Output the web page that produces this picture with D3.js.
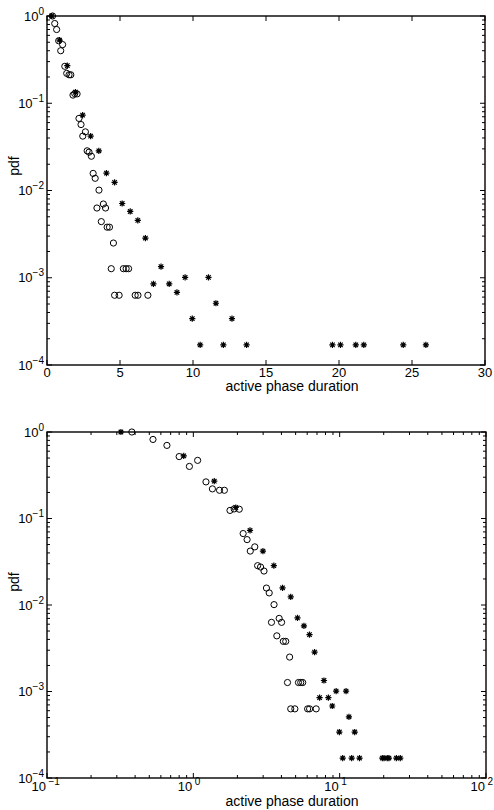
<!DOCTYPE html>
<html>
<head>
<meta charset="utf-8">
<script src="https://cdn.jsdelivr.net/npm/d3@7"></script>
<style>
  html, body { margin: 0; padding: 0; background: #fff; }
  svg { display: block; }
  text { font-family: "Liberation Sans", Arial, Helvetica, sans-serif; fill: #000; }
</style>
</head>
<body>
<svg id="chart" width="494" height="810"></svg>
<script>
// Active phase durations (x) and their empirical pdf, two datasets
const circleDur = [0.38, 0.53, 0.66, 0.80, 0.94, 1.07, 1.22, 1.35, 1.51, 1.63,
  1.78, 1.90, 2.06, 2.19, 2.33, 2.45, 2.63, 2.75, 2.88, 3.04,
  3.16, 3.30, 3.56, 3.42, 3.86, 4.01, 3.72, 4.12, 4.28, 4.55,
  4.40, 5.23, 5.42, 5.59, 4.63, 4.94, 6.04, 6.23, 6.91];
const circlePdf = [1.0, 0.82, 0.70, 0.52, 0.40, 0.47, 0.265, 0.22, 0.212, 0.212,
  0.124, 0.129, 0.128, 0.067, 0.057, 0.042, 0.047, 0.0285, 0.0275, 0.0247,
  0.0157, 0.0138, 0.0101, 0.0063, 0.0070, 0.0063, 0.0044, 0.0038, 0.0038, 0.0025,
  0.00127, 0.00127, 0.00127, 0.00127, 0.00063, 0.00063, 0.00063, 0.00063, 0.00063];

const starDur = [0.32, 0.86, 1.39, 1.95, 2.44, 2.99, 3.55, 4.07, 4.63, 5.15,
  5.70, 6.22, 6.74, 7.81, 7.29, 8.37, 8.90, 9.46, 11.06, 11.57,
  9.95, 12.67, 10.49, 12.08, 13.67, 19.55, 20.1, 21.15, 21.7, 24.4, 25.95];
const starPdf = [1.0, 0.53, 0.27, 0.134, 0.073, 0.042, 0.0285, 0.0158, 0.0124, 0.0071,
  0.00575, 0.00455, 0.00285, 0.00134, 0.00085, 0.00085, 0.00068, 0.00101, 0.00101, 0.00051,
  0.00034, 0.00034, 0.00017, 0.00017, 0.00017, 0.00017, 0.00017, 0.00017, 0.00017, 0.00017, 0.00017];

// Axis ticks
const linTicks = [0, 5, 10, 15, 20, 25, 30];
const pdfDecades = [1e-4, 1e-3, 1e-2, 1e-1, 1];
const pdfExponents = ["−4", "−3", "−2", "−1", "0"];
const durDecades = [0.1, 1, 10, 100];
const durExponents = ["−1", "0", "1", "2"];
const xTitle = "active phase duration";
const yTitle = "pdf";

const svg = d3.select("#chart");
const circles = circleDur.map((d, i) => ({ x: d, p: circlePdf[i] }));
const stars = starDur.map((d, i) => ({ x: d, p: starPdf[i] }));

function minorLogTicks(lo, hi) {
  const out = [];
  for (let dec = lo; dec < hi * 0.999; dec *= 10) {
    for (let k = 2; k <= 9; k++) out.push(dec * k);
  }
  return out;
}

const starPath = (() => {
  const s = 3.1, a = s * 0.72;
  return `M${-s},0H${s}M0,${-s}V${s}M${-a},${-a}L${a},${a}M${-a},${a}L${a},${-a}`;
})();

function drawPanel(cfg) {
  const { x, y, logX } = cfg;
  const [x0, x1] = x.range();
  const [y0, y1] = y.range(); // y0 bottom, y1 top
  const g = svg.append("g");
  const axisColor = "#000";
  const majorLen = 5, minorLen = 3;

  // Ticks on all four sides, pointing inward
  const ticks = g.append("g").attr("stroke", axisColor).attr("stroke-width", 1);
  const xMajor = logX ? durDecades : linTicks;
  xMajor.forEach(v => {
    const px = x(v);
    ticks.append("line").attr("x1", px).attr("x2", px).attr("y1", y0).attr("y2", y0 - majorLen);
    ticks.append("line").attr("x1", px).attr("x2", px).attr("y1", y1).attr("y2", y1 + majorLen);
  });
  if (logX) {
    minorLogTicks(0.1, 100).forEach(v => {
      const px = x(v);
      ticks.append("line").attr("x1", px).attr("x2", px).attr("y1", y0).attr("y2", y0 - minorLen);
      ticks.append("line").attr("x1", px).attr("x2", px).attr("y1", y1).attr("y2", y1 + minorLen);
    });
  }
  pdfDecades.forEach(v => {
    const py = y(v);
    ticks.append("line").attr("x1", x0).attr("x2", x0 + majorLen).attr("y1", py).attr("y2", py);
    ticks.append("line").attr("x1", x1).attr("x2", x1 - majorLen).attr("y1", py).attr("y2", py);
  });
  minorLogTicks(1e-4, 1).forEach(v => {
    const py = y(v);
    ticks.append("line").attr("x1", x0).attr("x2", x0 + minorLen).attr("y1", py).attr("y2", py);
    ticks.append("line").attr("x1", x1).attr("x2", x1 - minorLen).attr("y1", py).attr("y2", py);
  });

  // Box
  g.append("rect")
    .attr("x", x0).attr("y", y1)
    .attr("width", x1 - x0).attr("height", y0 - y1)
    .attr("fill", "none").attr("stroke", axisColor).attr("stroke-width", 1.4);

  // Y tick labels: 10^n, right aligned
  pdfDecades.forEach((v, i) => {
    const py = y(v);
    const t = g.append("text").attr("x", x0 - 3).attr("y", py + 4.7)
      .attr("text-anchor", "end").attr("font-size", 13);
    t.append("tspan").text("10");
    t.append("tspan").attr("dy", -6).attr("font-size", 10).text(pdfExponents[i]);
  });

  // X tick labels
  if (logX) {
    durDecades.forEach((v, i) => {
      const px = x(v);
      g.append("text").attr("x", px - 1).attr("y", y0 + 13)
        .attr("text-anchor", "end").attr("font-size", 13).text("10");
      g.append("text").attr("x", px + 1.5).attr("y", y0 + 7)
        .attr("text-anchor", "start").attr("font-size", 10).text(durExponents[i]);
    });
  } else {
    linTicks.forEach(v => {
      g.append("text").attr("x", x(v)).attr("y", y0 + 11.5)
        .attr("text-anchor", "middle").attr("font-size", 13).text(v);
    });
  }

  // Axis titles
  g.append("text").attr("x", 292).attr("y", y0 + cfg.titleDy)
    .attr("text-anchor", "middle").attr("font-size", 14).text(xTitle);
  g.append("text")
    .attr("transform", `translate(19,${cfg.yTitleY}) rotate(-90)`)
    .attr("text-anchor", "middle").attr("font-size", 14).text(yTitle);

  // Data markers
  g.append("g").selectAll("circle").data(circles).join("circle")
    .attr("cx", d => x(d.x)).attr("cy", d => y(d.p)).attr("r", 3.1)
    .attr("fill", "none").attr("stroke", "#000").attr("stroke-width", 1);
  g.append("g").selectAll("path").data(stars).join("path")
    .attr("transform", d => `translate(${x(d.x)},${y(d.p)})`)
    .attr("d", starPath)
    .attr("fill", "none").attr("stroke", "#000").attr("stroke-width", 1.2);
}

// Linear duration axis
drawPanel({
  x: d3.scaleLinear().domain([0, 30]).range([47, 485]),
  y: d3.scaleLog().domain([1e-4, 1]).range([365, 16]),
  logX: false,
  titleDy: 26,
  yTitleY: 166
});

// Logarithmic duration axis
drawPanel({
  x: d3.scaleLog().domain([0.1, 100]).range([47, 486]),
  y: d3.scaleLog().domain([1e-4, 1]).range([778, 432]),
  logX: true,
  titleDy: 28,
  yTitleY: 582
});
</script>
</body>
</html>
